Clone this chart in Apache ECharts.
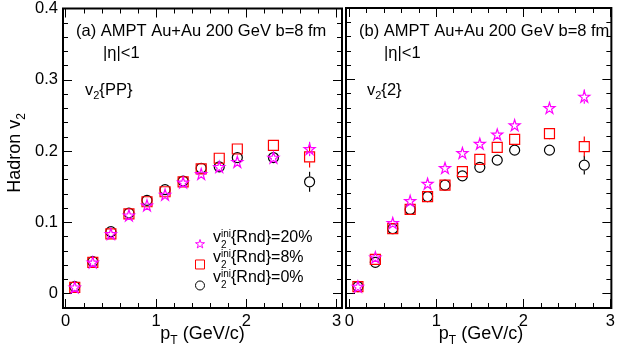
<!DOCTYPE html>
<html><head><meta charset="utf-8">
<script src="https://cdn.jsdelivr.net/npm/echarts@6/dist/echarts.min.js"></script>
<style>html,body{margin:0;padding:0;background:#fff}#c{width:618px;height:355px}</style>
</head><body><div id="c"></div>
<script>
// ---- data ----
const pt = [0.1, 0.3, 0.5, 0.7, 0.9, 1.1, 1.3, 1.5, 1.7, 1.9, 2.3, 2.7];
// panel (a) v2{PP}
const ppRnd20 = [0.009, 0.044, 0.084, 0.110, 0.124, 0.139, 0.156, 0.168, 0.178, 0.185, 0.191, 0.203];
const ppRnd8  = [0.009, 0.044, 0.084, 0.112, 0.129, 0.143, 0.157, 0.175, 0.190, 0.203, 0.208, 0.192];
const ppRnd0  = [0.010, 0.045, 0.087, 0.113, 0.131, 0.146, 0.158, 0.176, 0.178, 0.191, 0.191, 0.157];
const ppErr20 = [0.001, 0.001, 0.001, 0.002, 0.002, 0.002, 0.003, 0.003, 0.004, 0.005, 0.005, 0.010];
const ppErr8  = [0.001, 0.001, 0.001, 0.002, 0.002, 0.002, 0.003, 0.003, 0.004, 0.005, 0.007, 0.015];
const ppErr0  = [0.001, 0.001, 0.001, 0.002, 0.002, 0.002, 0.003, 0.003, 0.004, 0.005, 0.005, 0.014];
// panel (b) v2{2}
const c2Rnd20 = [0.010, 0.051, 0.099, 0.130, 0.154, 0.176, 0.197, 0.210, 0.223, 0.236, 0.260, 0.276];
const c2Rnd8  = [0.010, 0.048, 0.091, 0.118, 0.136, 0.152, 0.171, 0.188, 0.205, 0.216, 0.224, 0.206];
const c2Rnd0  = [0.010, 0.044, 0.091, 0.118, 0.136, 0.152, 0.165, 0.177, 0.187, 0.201, 0.201, 0.180];
const c2Err20 = [0.001, 0.001, 0.001, 0.002, 0.002, 0.002, 0.003, 0.003, 0.004, 0.005, 0.006, 0.010];
const c2Err8  = [0.001, 0.001, 0.001, 0.002, 0.002, 0.002, 0.003, 0.004, 0.005, 0.006, 0.008, 0.014];
const c2Err0  = [0.001, 0.001, 0.001, 0.002, 0.002, 0.002, 0.003, 0.003, 0.004, 0.004, 0.005, 0.013];
// ticks
const xMajor = [0, 1, 2, 3];
const xMinor = [0.2, 0.4, 0.6, 0.8, 1.2, 1.4, 1.6, 1.8, 2.2, 2.4, 2.6, 2.8];
const yMajor = [0, 0.1, 0.2, 0.3, 0.4];
const yMinor = [0.02, 0.04, 0.06, 0.08, 0.12, 0.14, 0.16, 0.18, 0.22, 0.24, 0.26, 0.28, 0.32, 0.34, 0.36, 0.38];
const names = ['v2ini{Rnd}=20%', 'v2ini{Rnd}=8%', 'v2ini{Rnd}=0%'];

// ---- style ----
const FF = '"Liberation Sans", Arial, Helvetica, sans-serif';
const STAR = 'path://M50,2 L61.2,36.2 L97.6,36.2 L68.2,57.4 L79.4,91.6 L50,70.4 L20.6,91.6 L31.8,57.4 L2.4,36.2 L38.8,36.2 Z';
const styles = [
  {symbol: STAR, size: 11, color: '#ff00ff', half: 4.5},
  {symbol: 'rect', size: 10, color: '#ff0000', half: 5.5},
  {symbol: 'circle', size: 10, color: '#000000', half: 5.5}
];

const chart = echarts.init(document.getElementById('c'), null, {renderer: 'canvas'});

const grids = [
  {left: 63, top: 8, width: 279, height: 300, xmin: -0.03, xmax: 3.059, labels: true},
  {left: 346, top: 8, width: 270, height: 300, xmin: -0.037, xmax: 3.011, labels: false}
];

const xAxis = [], yAxis = [];
function tickAxis(isX, gi, g, position, values, len, labels) {
  return {
    type: 'value', gridIndex: gi, position: position,
    min: isX ? g.xmin : -0.02, max: isX ? g.xmax : 0.4,
    axisLine: {show: false, onZero: false}, splitLine: {show: false},
    axisTick: {show: true, inside: true, length: len, customValues: values, lineStyle: {color: '#000', width: 1}},
    axisLabel: {show: !!labels, customValues: values, color: '#000', fontSize: 16.5, fontFamily: FF,
      margin: 5, formatter: v => String(+v.toFixed(2)), showMinLabel: true, showMaxLabel: true}
  };
}
grids.forEach((g, gi) => {
  xAxis.push(tickAxis(true, gi, g, 'bottom', xMajor, 9, true));
  xAxis.push(tickAxis(true, gi, g, 'bottom', xMinor, 5, false));
  xAxis.push(tickAxis(true, gi, g, 'top', xMajor, 9, false));
  xAxis.push(tickAxis(true, gi, g, 'top', xMinor, 5, false));
  yAxis.push(tickAxis(false, gi, g, 'left', yMajor, 9, g.labels));
  yAxis.push(tickAxis(false, gi, g, 'left', yMinor, 5, false));
  yAxis.push(tickAxis(false, gi, g, 'right', yMajor, 9, false));
  yAxis.push(tickAxis(false, gi, g, 'right', yMinor, 5, false));
});

const panels = [
  {vals: [ppRnd20, ppRnd8, ppRnd0], errs: [ppErr20, ppErr8, ppErr0]},
  {vals: [c2Rnd20, c2Rnd8, c2Rnd0], errs: [c2Err20, c2Err8, c2Err0]}
];
const series = [];
panels.forEach((p, gi) => {
  [2, 1, 0].forEach(k => {
    const st = styles[k];
    const half = st.half;
    series.push({
      type: 'custom', xAxisIndex: gi * 4, yAxisIndex: gi * 4, z: 2,
      data: pt.map((x, i) => [x, p.vals[k][i], p.errs[k][i]]),
      renderItem: (params, api) => {
        const x = api.value(0), y = api.value(1), e = api.value(2);
        const c = api.coord([x, y]);
        const top = api.coord([x, y + e]), bot = api.coord([x, y - e]);
        const children = [];
        if (c[1] - top[1] > half) children.push({type: 'line', shape: {x1: c[0], y1: top[1], x2: c[0], y2: c[1] - half}, style: {stroke: st.color, lineWidth: 1.2}});
        if (bot[1] - c[1] > half) children.push({type: 'line', shape: {x1: c[0], y1: c[1] + half, x2: c[0], y2: bot[1]}, style: {stroke: st.color, lineWidth: 1.2}});
        return {type: 'group', children};
      }
    });
    series.push({
      name: names[k], type: 'scatter', xAxisIndex: gi * 4, yAxisIndex: gi * 4, z: 3 + (2 - k),
      symbol: st.symbol, symbolSize: st.size,
      itemStyle: {color: 'rgba(0,0,0,0)', borderColor: st.color, borderWidth: 1.2, opacity: 1},
      emphasis: {disabled: true},
      data: pt.map((x, i) => [x, p.vals[k][i]])
    });
  });
});

// ---- text helpers ----
const ctx = document.createElement('canvas').getContext('2d');
function tw(t, s) { ctx.font = s + 'px ' + FF; return ctx.measureText(t).width; }
function txt(x, y, t, s) {
  return {type: 'text', x: x, y: y, silent: true,
    style: {text: t, fontSize: s, fontFamily: FF, fill: '#000', textAlign: 'left', textVerticalAlign: 'middle', align: 'left', verticalAlign: 'middle'}};
}
function segW(segs) { let w = 0; segs.forEach(g => { w += g.stack ? Math.max(...g.stack.map(h => tw(h.t, h.s))) : tw(g.t, g.s); }); return w; }
function rich(x, y, segs) {
  const out = []; let cx = x;
  segs.forEach(g => {
    if (g.stack) {
      let w = 0;
      g.stack.forEach(h => { out.push(txt(cx, y + h.dy, h.t, h.s)); w = Math.max(w, tw(h.t, h.s)); });
      cx += w;
    } else {
      out.push(txt(cx, y + (g.dy || 0), g.t, g.s)); cx += tw(g.t, g.s);
    }
  });
  return out;
}

const graphic = [];
// panel titles
graphic.push(...rich(76, 31, [{t: '(a) AMPT Au+Au 200 GeV b=8 fm', s: 16.5}]));
graphic.push(...rich(103, 53, [{t: '|\u03b7|<1', s: 16.5}]));
graphic.push(...rich(85, 90, [{t: 'v', s: 16.5}, {t: '2', s: 11, dy: 6}, {t: '{PP}', s: 16.5}]));
graphic.push(...rich(359, 31, [{t: '(b) AMPT Au+Au 200 GeV b=8 fm', s: 16.5}]));
graphic.push(...rich(384, 53, [{t: '|\u03b7|<1', s: 16.5}]));
graphic.push(...rich(367, 90, [{t: 'v', s: 16.5}, {t: '2', s: 11, dy: 6}, {t: '{2}', s: 16.5}]));
// legend texts
const legTxt = ['{Rnd}=20%', '{Rnd}=8%', '{Rnd}=0%'];
legTxt.forEach((t, i) => {
  graphic.push(...rich(213, 238 + i * 20, [{t: 'v', s: 16}, {stack: [{t: 'ini', s: 10, dy: -4}, {t: '2', s: 10, dy: 7}]}, {t: t, s: 16}]));
});
// axis titles
const ptSegs = [{t: 'p', s: 18}, {t: 'T', s: 12, dy: 7}, {t: ' (GeV/c)', s: 18}];
const ptW = segW(ptSegs);
graphic.push(...rich(202.5 - ptW / 2, 334, ptSegs));
graphic.push(...rich(481 - ptW / 2, 334, ptSegs));
const ySegs = [{t: 'Hadron v', s: 18}, {t: '2', s: 12, dy: 7}];
const yW = segW(ySegs);
graphic.push({type: 'group', x: 15, y: 153, rotation: Math.PI / 2, children: rich(-yW / 2, 0, ySegs)});

chart.setOption({
  animation: false,
  backgroundColor: '#fff',
  grid: grids.map(g => ({left: g.left, top: g.top, width: g.width, height: g.height, show: true,
    borderColor: '#000', borderWidth: 2, backgroundColor: 'transparent', containLabel: false})),
  xAxis: xAxis, yAxis: yAxis,
  legend: {orient: 'vertical', left: 190, top: 234, itemWidth: 9, itemHeight: 9, itemGap: 11,
    data: names.map((n, k) => ({name: n, itemStyle: {color: 'rgba(0,0,0,0)', borderColor: styles[k].color, borderWidth: 1}})),
    formatter: () => '', textStyle: {fontSize: 9, lineHeight: 9}, selectedMode: false},
  series: series,
  graphic: graphic
});
</script></body></html>
